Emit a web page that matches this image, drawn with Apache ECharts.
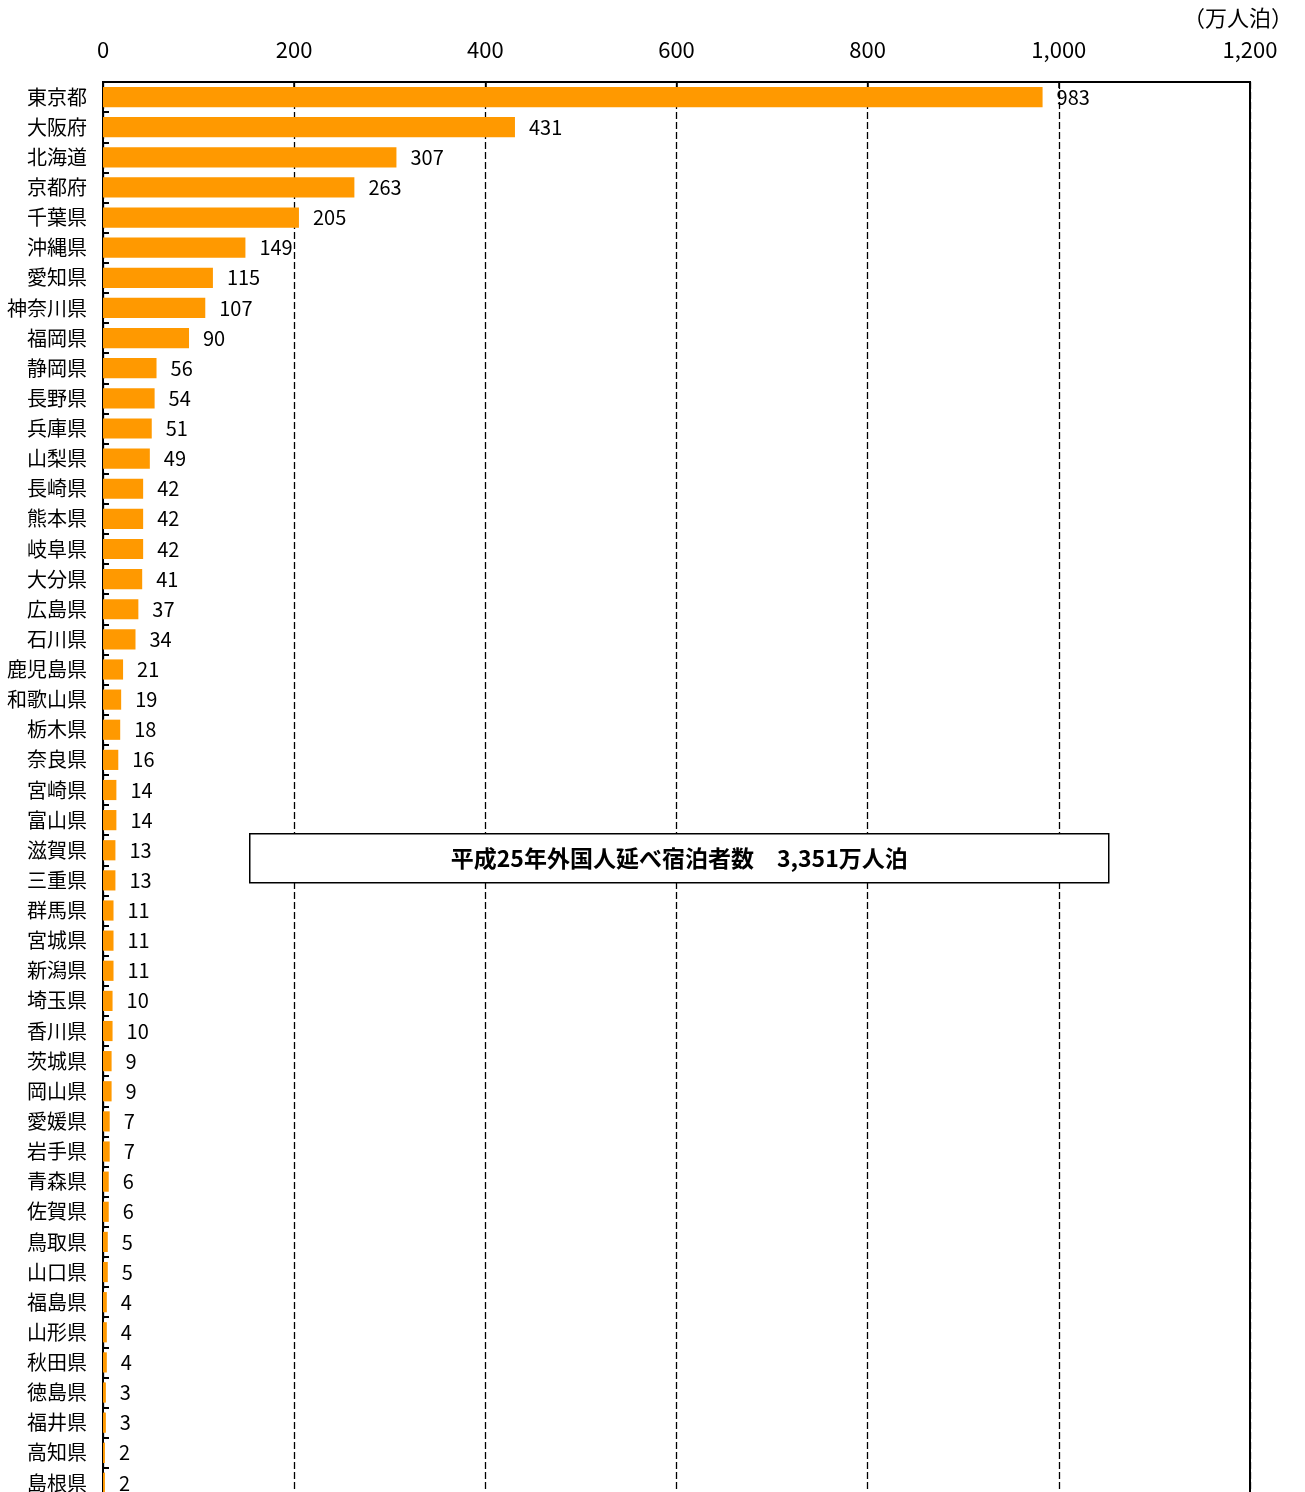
<!DOCTYPE html>
<html>
<head>
<meta charset="utf-8">
<script src="https://cdn.jsdelivr.net/npm/echarts@6/dist/echarts.min.js"></script>
<style>
  html, body { margin: 0; padding: 0; background: #fff; }
  #main { width: 1305px; height: 1492px; }
</style>
</head>
<body>
<div id="main"></div>
<script>
// 都道府県別 外国人延べ宿泊者数（万人泊）
var prefs = ['東京都','大阪府','北海道','京都府','千葉県','沖縄県','愛知県','神奈川県','福岡県','静岡県',
  '長野県','兵庫県','山梨県','長崎県','熊本県','岐阜県','大分県','広島県','石川県','鹿児島県',
  '和歌山県','栃木県','奈良県','宮崎県','富山県','滋賀県','三重県','群馬県','宮城県','新潟県',
  '埼玉県','香川県','茨城県','岡山県','愛媛県','岩手県','青森県','佐賀県','鳥取県','山口県',
  '福島県','山形県','秋田県','徳島県','福井県','高知県','島根県'];
var stays = [983,431,307,263,205,149,115,107,90,56,
  54,51,49,42,42,42,41,37,34,21,
  19,18,16,14,14,13,13,11,11,11,
  10,10,9,9,7,7,6,6,5,5,
  4,4,4,3,3,2,2];
var totalText = '平成25年外国人延べ宿泊者数　3,351万人泊';
var unitText = '（万人泊）';

var myChart = echarts.init(document.getElementById('main'));
var font = '"Noto Sans CJK JP", "Noto Sans", sans-serif';

var option = {
  animation: false,
  backgroundColor: '#fff',
  textStyle: { fontFamily: font },
  grid: {
    left: 103, width: 1147, top: 82, height: 1416,
    outerBoundsMode: 'none',
    containLabel: false,
    show: true, borderColor: '#000', borderWidth: 2, backgroundColor: 'transparent'
  },
  xAxis: {
    type: 'value',
    position: 'top',
    min: 0, max: 1200, interval: 200,
    axisLine: { show: true, lineStyle: { color: '#000', width: 2 } },
    axisTick: { show: true, inside: true, length: 6, lineStyle: { color: '#000', width: 1.5 } },
    axisLabel: {
      margin: 21, fontSize: 22, color: '#000', fontFamily: font,
      formatter: function (v) { return v.toLocaleString('en-US'); }
    },
    splitLine: { show: true, lineStyle: { color: '#000', width: 1.3, type: [7, 3] } }
  },
  yAxis: {
    type: 'category',
    inverse: true,
    data: prefs,
    axisLine: { show: true, lineStyle: { color: '#000', width: 2 } },
    axisTick: { show: true, interval: 0, inside: true, length: 6, lineStyle: { color: '#000', width: 2 } },
    axisLabel: { interval: 0, margin: 16, fontSize: 20, color: '#000', fontFamily: font }
  },
  series: [{
    type: 'bar',
    data: stays,
    barCategoryGap: '33%',
    itemStyle: { color: '#ff9900' },
    label: {
      show: true, position: 'right', distance: 14,
      fontSize: 20, color: '#000', fontFamily: font
    },
    z: 3
  }],
  graphic: [
    {
      type: 'text', right: 12, top: 7,
      style: { text: unitText, fill: '#000', font: '22px ' + font }
    },
    {
      type: 'group', left: 249, top: 833,
      children: [
        {
          type: 'rect', shape: { x: 0, y: 0, width: 859, height: 49 },
          style: { fill: '#fff', stroke: '#000', lineWidth: 1.5 }, z: 10
        },
        {
          type: 'text', x: 429.5, y: 25, z: 11,
          style: {
            text: totalText, align: 'center', verticalAlign: 'middle',
            fill: '#000', font: 'bold 23px ' + font
          }
        }
      ]
    }
  ]
};

myChart.setOption(option);
</script>
</body>
</html>
